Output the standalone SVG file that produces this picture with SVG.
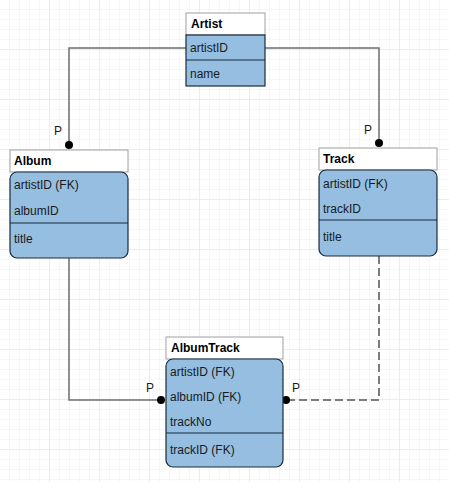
<svg xmlns="http://www.w3.org/2000/svg" width="449" height="482" viewBox="0 0 449 482">
<style>
.title{fill:#ffffff;stroke:#a0a0a0;stroke-width:1}
.body{fill:#95bee0;stroke:#1b2a3c;stroke-width:1.2}
.div{stroke:#1b2a3c;stroke-width:1.2}
.t{font-family:"Liberation Sans",Arial,sans-serif;font-size:12px;fill:#1a1a1a}
.h{font-family:"Liberation Sans",Arial,sans-serif;font-size:12px;font-weight:bold;fill:#000}
.con{fill:none;stroke:#6e6e6e;stroke-width:1.5}
.dash{fill:none;stroke:#7c7c7c;stroke-width:2;stroke-dasharray:8 4}
.p{font-family:"Liberation Sans",Arial,sans-serif;font-size:12px;fill:#1a1a1a}
</style>
<defs>
<pattern id="minor" width="10" height="10" patternUnits="userSpaceOnUse">
<path d="M10 0V10M0 10H10" fill="none" stroke="#eeeeee" stroke-width="1"/>
</pattern>
<pattern id="major" width="50" height="50" patternUnits="userSpaceOnUse">
<rect width="50" height="50" fill="url(#minor)"/>
<path d="M50 0V50M0 50H50" fill="none" stroke="#e2e2e2" stroke-width="1"/>
</pattern>
</defs>
<rect width="449" height="482" fill="#ffffff"/>
<rect width="449" height="482" fill="url(#major)"/>
<g id="connectors">
<path class="con" d="M186 48H69V145"/>
<circle cx="69" cy="145" r="4" fill="#000"/>
<text class="p" x="54" y="135">P</text>
<path class="con" d="M265 48H379V143"/>
<circle cx="379" cy="143" r="4" fill="#000"/>
<text class="p" x="364" y="134">P</text>
<path class="con" d="M69 258V400H161"/>
<circle cx="161" cy="400" r="4" fill="#000"/>
<text class="p" x="146" y="392">P</text>
<path class="dash" d="M379 256V400H287"/>
<circle cx="286" cy="400" r="4" fill="#000"/>
<text class="p" x="292" y="392">P</text>
</g>
<g id="artist">
<rect class="title" x="186" y="13" width="79" height="22"/>
<text class="h" x="191" y="28">Artist</text>
<rect class="body" x="186" y="35" width="79" height="51"/>
<line class="div" x1="186" y1="60" x2="265" y2="60"/>
<text class="t" x="190" y="52">artistID</text>
<text class="t" x="190" y="78">name</text>
</g>
<g id="album">
<rect class="title" x="10" y="150" width="118" height="22"/>
<text class="h" x="14" y="165">Album</text>
<rect class="body" x="10" y="172" width="118" height="86" rx="7"/>
<line class="div" x1="10" y1="223" x2="128" y2="223"/>
<text class="t" x="14" y="189">artistID (FK)</text>
<text class="t" x="14" y="215">albumID</text>
<text class="t" x="14" y="243">title</text>
</g>
<g id="track">
<rect class="title" x="319" y="148" width="118" height="22"/>
<text class="h" x="323" y="163">Track</text>
<rect class="body" x="319" y="170" width="118" height="86" rx="7"/>
<line class="div" x1="319" y1="220" x2="437" y2="220"/>
<text class="t" x="323" y="188">artistID (FK)</text>
<text class="t" x="323" y="213">trackID</text>
<text class="t" x="323" y="241">title</text>
</g>
<g id="albumtrack">
<rect class="title" x="166" y="337" width="117" height="22"/>
<text class="h" x="171" y="352">AlbumTrack</text>
<rect class="body" x="166" y="359" width="117" height="108" rx="7"/>
<line class="div" x1="166" y1="433" x2="283" y2="433"/>
<text class="t" x="170" y="376">artistID (FK)</text>
<text class="t" x="170" y="401">albumID (FK)</text>
<text class="t" x="170" y="426">trackNo</text>
<text class="t" x="170" y="454">trackID (FK)</text>
</g>
</svg>
